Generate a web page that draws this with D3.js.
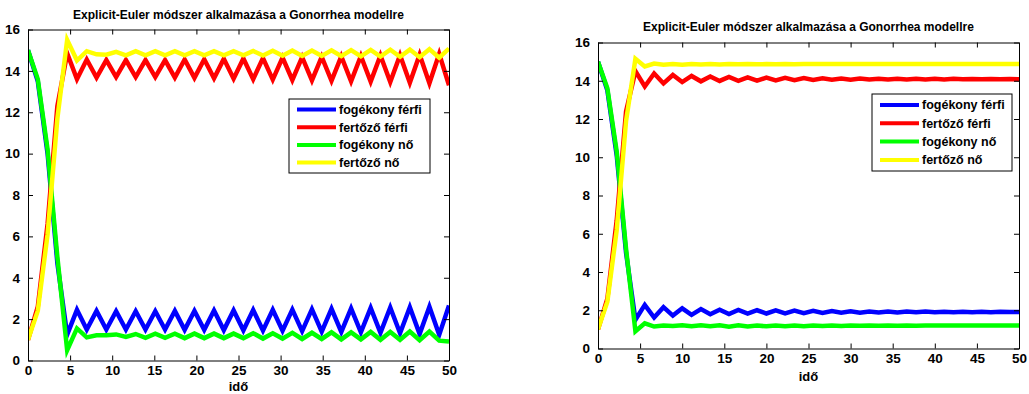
<!DOCTYPE html>
<html>
<head>
<meta charset="utf-8">
<script src="https://cdn.jsdelivr.net/npm/d3@7"></script>
<style>
html,body{margin:0;padding:0;background:#fff;}
svg{display:block;}
text{font-family:"Liberation Sans",Arial,Helvetica,sans-serif;font-weight:bold;fill:#000;}
</style>
</head>
<body>
<svg id="chart" width="1029" height="394"></svg>
<script>
// ---- data ----
const seriesNames = ["fogékony férfi", "fertőző férfi", "fogékony nő", "fertőző nő"];
const seriesColors = ["#0000ff", "#ff0000", "#00ff00", "#ffff00"];
const titleText = "Explicit-Euler módszer alkalmazása a Gonorrhea modellre";
const xLabelText = "idő";
const xTicks = [0, 5, 10, 15, 20, 25, 30, 35, 40, 45, 50];
const yTicks = [0, 2, 4, 6, 8, 10, 12, 14, 16];

// left panel: 43 Euler steps on [0, 50]
const leftSteps = 43;
const leftBlue = [15, 13.5, 10.0, 4.7, 1.25, 2.45, 1.5, 2.4, 1.5, 2.38, 1.5, 2.38, 1.5, 2.38, 1.5, 2.4, 1.48, 2.4, 1.48, 2.42, 1.47, 2.42, 1.46, 2.44, 1.45, 2.45, 1.44, 2.46, 1.42, 2.48, 1.4, 2.5, 1.38, 2.52, 1.36, 2.54, 1.34, 2.56, 1.32, 2.58, 1.28, 2.6, 1.24, 2.66];
const leftRed = [1.0, 2.6, 6.6, 12.3, 14.85, 13.6, 14.55, 13.68, 14.52, 13.7, 14.52, 13.7, 14.52, 13.7, 14.52, 13.68, 14.55, 13.66, 14.56, 13.64, 14.58, 13.62, 14.6, 13.6, 14.62, 13.58, 14.64, 13.56, 14.66, 13.54, 14.68, 13.52, 14.7, 13.5, 14.72, 13.48, 14.74, 13.46, 14.76, 13.43, 14.78, 13.4, 14.82, 13.3];
const leftGreen = [15, 13.6, 10.2, 5.0, 0.5, 1.55, 1.12, 1.22, 1.22, 1.26, 1.14, 1.28, 1.1, 1.3, 1.1, 1.3, 1.08, 1.3, 1.08, 1.3, 1.08, 1.3, 1.08, 1.32, 1.06, 1.32, 1.06, 1.34, 1.04, 1.34, 1.04, 1.36, 1.02, 1.36, 1.02, 1.38, 1.0, 1.38, 1.0, 1.4, 0.98, 1.4, 0.96, 0.92];
const leftYellow = [1.0, 2.4, 6.1, 11.7, 15.5, 14.5, 14.95, 14.8, 14.78, 14.92, 14.75, 14.95, 14.75, 14.95, 14.75, 14.95, 14.75, 14.95, 14.75, 14.95, 14.75, 14.95, 14.75, 14.96, 14.74, 14.97, 14.73, 14.98, 14.72, 14.98, 14.72, 14.99, 14.71, 15.0, 14.7, 15.01, 14.69, 15.02, 14.68, 15.03, 14.66, 15.05, 14.64, 15.08];

// right panel: 45 Euler steps on [0, 50]
const rightSteps = 45;
const rightBlue = [15, 13.5, 10.1, 5.0, 1.5, 2.28, 1.62, 2.16, 1.72, 2.1, 1.76, 2.06, 1.79, 2.03, 1.8, 2.02, 1.82, 2.0, 1.83, 1.99, 1.84, 1.98, 1.85, 1.97, 1.86, 1.96, 1.87, 1.95, 1.87, 1.94, 1.88, 1.94, 1.88, 1.93, 1.89, 1.93, 1.89, 1.92, 1.9, 1.92, 1.9, 1.92, 1.9, 1.92, 1.91, 1.91];
const rightRed = [1.0, 2.6, 6.7, 12.4, 14.5, 13.7, 14.38, 13.86, 14.3, 13.93, 14.25, 13.97, 14.22, 13.99, 14.2, 14.0, 14.18, 14.01, 14.16, 14.02, 14.15, 14.03, 14.14, 14.04, 14.13, 14.05, 14.12, 14.05, 14.12, 14.06, 14.11, 14.06, 14.11, 14.07, 14.1, 14.07, 14.1, 14.07, 14.1, 14.08, 14.09, 14.08, 14.09, 14.08, 14.09, 14.08];
const rightGreen = [15, 13.6, 10.3, 5.2, 0.9, 1.32, 1.15, 1.2, 1.18, 1.22, 1.16, 1.22, 1.17, 1.21, 1.14, 1.21, 1.15, 1.2, 1.16, 1.2, 1.17, 1.2, 1.17, 1.2, 1.18, 1.2, 1.18, 1.2, 1.19, 1.2, 1.19, 1.2, 1.19, 1.2, 1.19, 1.2, 1.2, 1.2, 1.2, 1.2, 1.2, 1.2, 1.2, 1.2, 1.2, 1.2];
const rightYellow = [1.0, 2.45, 6.2, 11.9, 15.15, 14.75, 14.9, 14.84, 14.88, 14.84, 14.88, 14.85, 14.87, 14.85, 14.87, 14.86, 14.87, 14.86, 14.87, 14.86, 14.87, 14.86, 14.87, 14.87, 14.87, 14.87, 14.87, 14.87, 14.87, 14.87, 14.87, 14.87, 14.87, 14.87, 14.87, 14.87, 14.87, 14.87, 14.87, 14.87, 14.87, 14.87, 14.87, 14.87, 14.87, 14.87];

// ---- drawing ----
const svg = d3.select("#chart");

function panel(cfg) {
  const {x0, x1, y0, y1, steps, series, titleY, xLabelY, legend} = cfg;
  const g = svg.append("g");
  const x = d3.scaleLinear().domain([0, 50]).range([x0, x1]);
  const y = d3.scaleLinear().domain([0, 16]).range([y1, y0]);
  const h = 50 / steps;

  const clipId = "clip" + x0;
  svg.append("clipPath").attr("id", clipId).append("rect")
    .attr("x", x0).attr("y", y0).attr("width", x1 - x0).attr("height", y1 - y0);

  const line = d3.line().x((d, i) => x(i * h)).y(d => y(d));
  const lines = g.append("g").attr("clip-path", `url(#${clipId})`);
  series.forEach((s, i) => {
    lines.append("path").datum(s).attr("d", line)
      .attr("fill", "none").attr("stroke", seriesColors[i])
      .attr("stroke-width", 4.5).attr("stroke-linejoin", "miter").attr("stroke-miterlimit", 10);
  });

  const tickLen = 5;
  const axB = d3.axisBottom(x).tickValues(xTicks).tickSizeInner(-tickLen).tickSizeOuter(0).tickPadding(5);
  const axT = d3.axisTop(x).tickValues(xTicks).tickSizeInner(-tickLen).tickSizeOuter(0).tickFormat("");
  const axL = d3.axisLeft(y).tickValues(yTicks).tickSizeInner(-tickLen).tickSizeOuter(0).tickPadding(8);
  const axR = d3.axisRight(y).tickValues(yTicks).tickSizeInner(-tickLen).tickSizeOuter(0).tickFormat("");
  const gb = g.append("g").attr("transform", `translate(0,${y1})`).call(axB);
  const gt = g.append("g").attr("transform", `translate(0,${y0})`).call(axT);
  const gl = g.append("g").attr("transform", `translate(${x0},0)`).call(axL);
  const gr = g.append("g").attr("transform", `translate(${x1},0)`).call(axR);
  [gb, gt, gl, gr].forEach(a => {
    a.selectAll("path.domain").attr("stroke", "#000").attr("stroke-width", 1);
    a.selectAll("line").attr("stroke", "#000");
    a.selectAll("text").attr("font-size", 13.5).attr("font-family", "Liberation Sans, Arial, sans-serif").attr("font-weight", "bold");
  });
  gb.selectAll("text").attr("dy", "0.71em");

  g.append("text").attr("x", (x0 + x1) / 2).attr("y", titleY)
    .attr("text-anchor", "middle").attr("font-size", 12).text(titleText);
  g.append("text").attr("x", (x0 + x1) / 2).attr("y", xLabelY)
    .attr("text-anchor", "middle").attr("font-size", 13).text(xLabelText);

  const lg = g.append("g");
  lg.append("rect").attr("x", legend.x).attr("y", legend.y).attr("width", legend.w).attr("height", legend.h)
    .attr("fill", "#fff").attr("stroke", "#000").attr("stroke-width", 1);
  seriesNames.forEach((n, i) => {
    const cy = legend.y + legend.firstY + i * legend.dy;
    lg.append("line").attr("x1", legend.x + 8).attr("x2", legend.x + 47)
      .attr("y1", cy).attr("y2", cy).attr("stroke", seriesColors[i]).attr("stroke-width", 4);
    lg.append("text").attr("x", legend.x + 50).attr("y", cy).attr("dy", "0.35em")
      .attr("font-size", 12.5).text(n);
  });
}

panel({x0: 28, x1: 449, y0: 29.5, y1: 360.5, steps: leftSteps,
  series: [leftBlue, leftRed, leftGreen, leftYellow],
  titleY: 19, xLabelY: 391,
  legend: {x: 289, y: 99, w: 141, h: 74, firstY: 10.5, dy: 17.7}});

panel({x0: 598, x1: 1019, y0: 42.5, y1: 348.5, steps: rightSteps,
  series: [rightBlue, rightRed, rightGreen, rightYellow],
  titleY: 31, xLabelY: 381,
  legend: {x: 872, y: 94, w: 140, h: 77, firstY: 11, dy: 18.3}});
</script>
</body>
</html>
